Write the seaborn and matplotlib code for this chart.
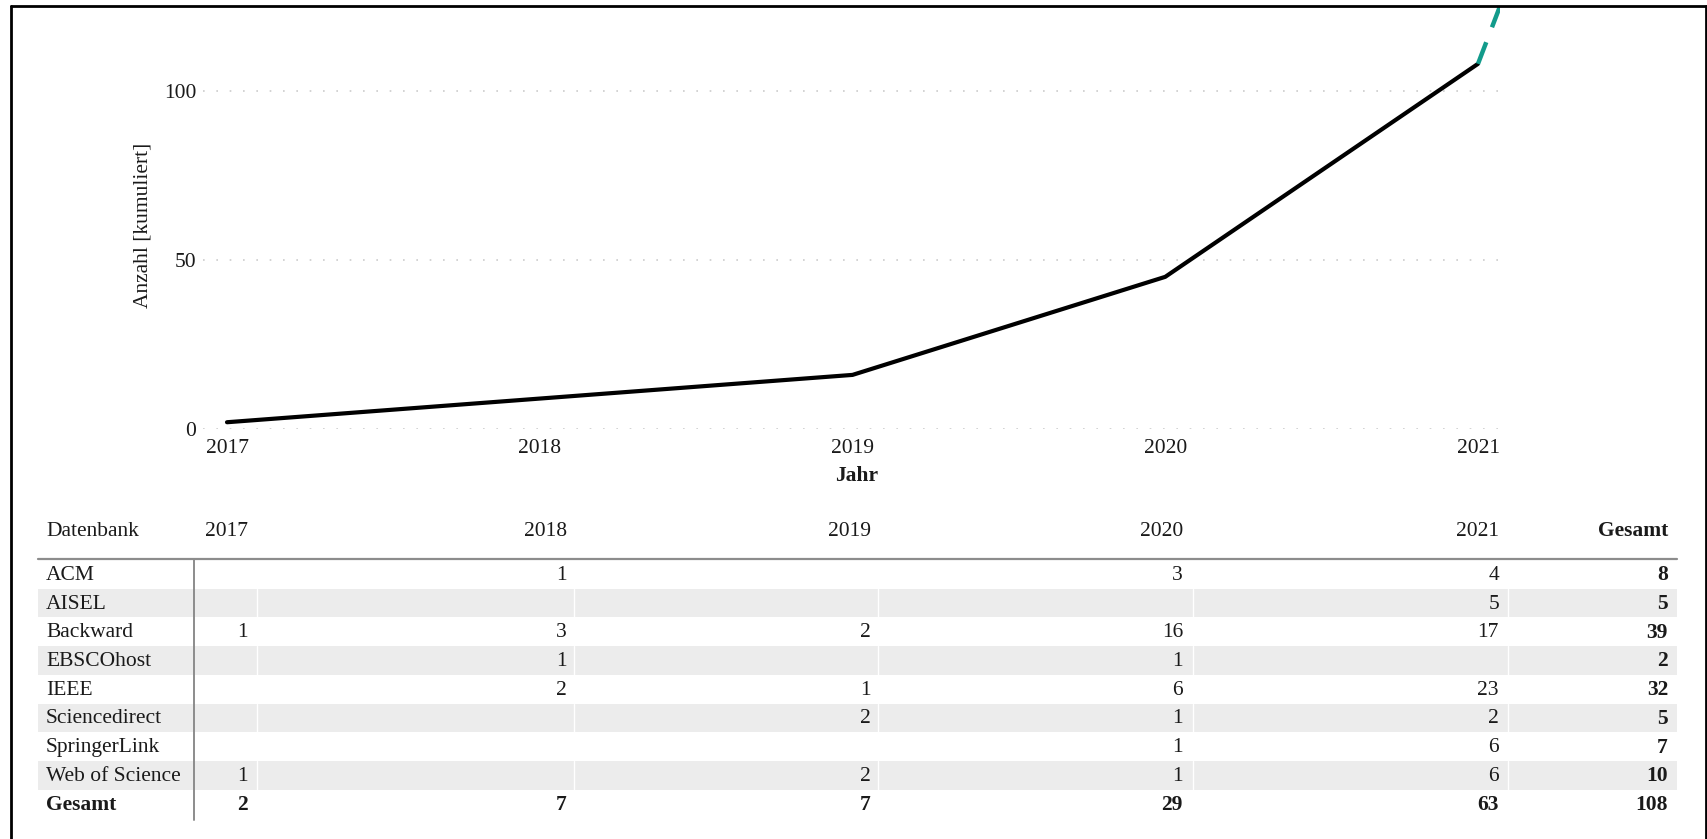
import numpy as np
import matplotlib
matplotlib.use('Agg')
import matplotlib.pyplot as plt
import seaborn as sns

#   data
jahre = [2017, 2018, 2019, 2020, 2021]
kumuliert = [2, 9, 16, 45, 108]
trend_jahre = [2021, 2022]
trend_werte = [108, 350]

datenbanken = ['ACM', 'AISEL', 'Backward', 'EBSCOhost', 'IEEE',
               'Sciencedirect', 'SpringerLink', 'Web of Science']
acm = [None, 1, None, 3, 4]
aisel = [None, None, None, None, 5]
backward = [1, 3, 2, 16, 17]
ebsco = [None, 1, None, 1, None]
ieee = [None, 2, 1, 6, 23]
sciencedirect = [None, None, 2, 1, 2]
springer = [None, None, None, 1, 6]
wos = [1, None, 2, 1, 6]
gesamt_db = [8, 5, 39, 2, 32, 5, 7, 10]
gesamt_jahr = [2, 7, 7, 29, 63]
gesamt = 108

zeilen = [acm, aisel, backward, ebsco, ieee, sciencedirect, springer, wos]

sns.set_style('white')
plt.rcParams['font.family'] = ['Liberation Serif', 'DejaVu Serif']
FS = 15.5
TXT = '#1a1a1a'

W, H = 1708, 839
fig = plt.figure(figsize=(W / 100, H / 100), dpi=100)

#   line chart (pixel box: left 203, right 1500, top 6, bottom 429)
ax = fig.add_axes([203 / W, 1 - 429 / H, (1500 - 203) / W, (429 - 6) / H])
sns.lineplot(x=jahre, y=kumuliert, ax=ax, color='black', lw=3.0)
sns.lineplot(x=trend_jahre, y=trend_werte, ax=ax, color='#129b8b', lw=3.2,
             linestyle=(0, (5.2, 3.6)))
ax.set_xlim(2017 - 24 / 312.75, 2021 + 22 / 312.75)
ax.set_ylim(0, 125.1)
ax.set_xticks(jahre)
ax.set_yticks([0, 50, 100])
for v in [0, 50, 100]:
    ax.axhline(v, color='#cccccc', lw=1.2, ls=(0, (1, 7)), zorder=0)
sns.despine(ax=ax, left=True, bottom=True)
ax.tick_params(length=0, labelsize=FS, labelcolor=TXT)
ax.tick_params(axis='x', pad=7)
ax.tick_params(axis='y', pad=5)
ax.set_xlabel('Jahr', fontsize=FS, fontweight='bold', color=TXT)
ax.set_ylabel('Anzahl [kumuliert]', fontsize=FS, color=TXT)
ax.xaxis.set_label_coords((857 - 203) / 1297, (429 - 466) / 423)
ax.yaxis.set_label_coords((153 - 203) / 1297, (429 - 225) / 423)

#   table drawn on an overlay in pixel coordinates
tab = fig.add_axes([0, 0, 1, 1])
tab.set_xlim(0, W)
tab.set_ylim(H, 0)
tab.axis('off')
tab.patch.set_alpha(0)

grenzen = [38, 194, 257, 574, 878, 1193, 1508, 1677]
rechts = [248, 567, 871, 1183, 1499]
rechts_gesamt = 1668
kopf_y = 531
oben = 560
zh = 28.7

tab.text(46, kopf_y, 'Datenbank', fontsize=FS, color=TXT, va='center')
for j, jahr in enumerate(jahre):
    tab.text(rechts[j], kopf_y, str(jahr), fontsize=FS, color=TXT, ha='right', va='center')
tab.text(rechts_gesamt, kopf_y, 'Gesamt', fontsize=FS, color=TXT, ha='right',
         va='center', fontweight='bold')

for i, (name, werte) in enumerate(zip(datenbanken, zeilen)):
    top = oben + i * zh
    mid = top + zh / 2 + 1
    if i % 2 == 1:
        tab.fill_between([grenzen[0], grenzen[-1]], top, top + zh, color='#ececec', lw=0)
        for gx in grenzen[2:-1]:
            tab.plot([gx, gx], [top, top + zh], color='white', lw=1)
    tab.text(46, mid, name, fontsize=FS, color=TXT, va='center')
    for j, v in enumerate(werte):
        if v is not None:
            tab.text(rechts[j], mid, str(v), fontsize=FS, color=TXT, ha='right', va='center')
    tab.text(rechts_gesamt, mid, str(gesamt_db[i]), fontsize=FS, color=TXT,
             ha='right', va='center', fontweight='bold')

mid = oben + len(datenbanken) * zh + zh / 2 + 1
tab.text(46, mid, 'Gesamt', fontsize=FS, color=TXT, va='center', fontweight='bold')
for j, v in enumerate(gesamt_jahr):
    tab.text(rechts[j], mid, str(v), fontsize=FS, color=TXT, ha='right', va='center',
             fontweight='bold')
tab.text(rechts_gesamt, mid, str(gesamt), fontsize=FS, color=TXT, ha='right', va='center',
         fontweight='bold')

tab.plot([grenzen[0], grenzen[-1]], [559, 559], color='#8c8c8c', lw=1.6)
tab.plot([194, 194], [559, 820], color='#8c8c8c', lw=1.4)

#   outer frame
tab.plot([11, W - 2], [6, 6], color='black', lw=2)
tab.plot([11, 11], [6, H], color='black', lw=2)
tab.plot([W - 2, W - 2], [6, H], color='black', lw=2)

plt.savefig('out.png', dpi=100)
